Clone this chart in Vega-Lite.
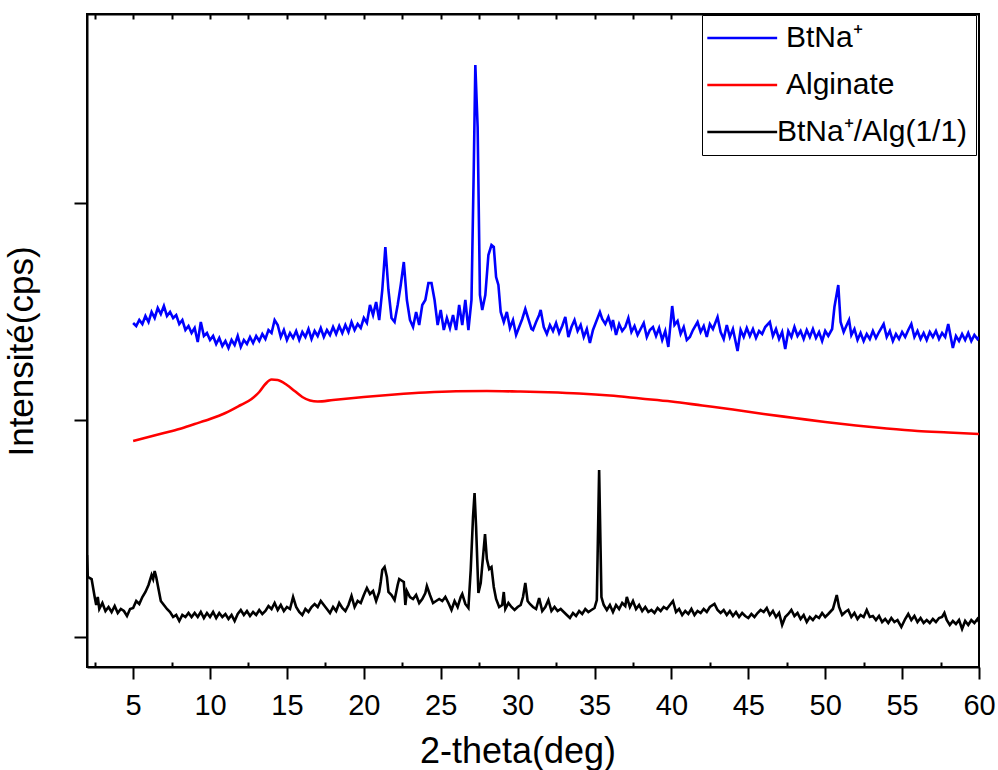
{
  "$schema": "https://vega.github.io/schema/vega-lite/v6.json",
  "width": 892,
  "height": 653,
  "autosize": "none",
  "padding": {"left": 87, "top": 14, "right": 19, "bottom": 103},
  "config": {
    "view": {"stroke": "black", "strokeWidth": 2},
    "font": "Liberation Sans",
    "axis": {"labelFont": "Liberation Sans", "titleFont": "Liberation Sans", "labelColor": "black", "titleColor": "black", "tickColor": "black", "domainColor": "black", "grid": false},
    "legend": {"labelFont": "Liberation Sans"}
  },
  "datasets": {
    "blue": [
      {"x":5.0,"y":344},{"x":5.2,"y":341},{"x":5.4,"y":347},{"x":5.6,"y":343},{"x":5.8,"y":351},{"x":6.0,"y":345},{"x":6.2,"y":355},{"x":6.4,"y":349},{"x":6.6,"y":359},{"x":6.8,"y":353},{"x":7.0,"y":361},{"x":7.2,"y":351},{"x":7.4,"y":355},{"x":7.6,"y":349},{"x":7.8,"y":352},{"x":8.0,"y":343},{"x":8.2,"y":347},{"x":8.4,"y":337},{"x":8.6,"y":341},{"x":8.8,"y":334},{"x":9.0,"y":339},{"x":9.2,"y":325},{"x":9.4,"y":345},{"x":9.6,"y":331},{"x":9.8,"y":334},{"x":10.0,"y":327},{"x":10.2,"y":331},{"x":10.4,"y":323},{"x":10.6,"y":329},{"x":10.8,"y":321},{"x":11.0,"y":326},{"x":11.2,"y":319},{"x":11.4,"y":327},{"x":11.6,"y":322},{"x":11.8,"y":331},{"x":12.0,"y":320},{"x":12.2,"y":327},{"x":12.4,"y":323},{"x":12.6,"y":330},{"x":12.8,"y":324},{"x":13.0,"y":331},{"x":13.2,"y":326},{"x":13.4,"y":333},{"x":13.6,"y":328},{"x":13.8,"y":337},{"x":14.0,"y":334},{"x":14.2,"y":347},{"x":14.4,"y":342},{"x":14.6,"y":330},{"x":14.8,"y":337},{"x":15.0,"y":327},{"x":15.2,"y":334},{"x":15.4,"y":329},{"x":15.6,"y":336},{"x":15.8,"y":327},{"x":16.0,"y":335},{"x":16.2,"y":330},{"x":16.4,"y":338},{"x":16.6,"y":328},{"x":16.8,"y":336},{"x":17.0,"y":331},{"x":17.2,"y":339},{"x":17.4,"y":330},{"x":17.6,"y":337},{"x":17.8,"y":332},{"x":18.0,"y":340},{"x":18.2,"y":333},{"x":18.4,"y":341},{"x":18.6,"y":334},{"x":18.8,"y":342},{"x":19.0,"y":335},{"x":19.2,"y":345},{"x":19.4,"y":337},{"x":19.6,"y":343},{"x":19.8,"y":339},{"x":20.0,"y":349},{"x":20.2,"y":344},{"x":20.4,"y":362},{"x":20.6,"y":352},{"x":20.8,"y":365},{"x":21.0,"y":347},{"x":21.2,"y":377},{"x":21.4,"y":420},{"x":21.6,"y":377},{"x":21.8,"y":349},{"x":22.0,"y":345},{"x":22.2,"y":362},{"x":22.4,"y":382},{"x":22.6,"y":405},{"x":22.8,"y":367},{"x":23.0,"y":347},{"x":23.2,"y":340},{"x":23.4,"y":355},{"x":23.6,"y":342},{"x":23.8,"y":362},{"x":24.0,"y":367},{"x":24.2,"y":384},{"x":24.4,"y":384},{"x":24.6,"y":367},{"x":24.8,"y":342},{"x":25.0,"y":357},{"x":25.2,"y":337},{"x":25.4,"y":349},{"x":25.6,"y":339},{"x":25.8,"y":352},{"x":26.0,"y":337},{"x":26.2,"y":362},{"x":26.4,"y":342},{"x":26.6,"y":367},{"x":26.8,"y":337},{"x":27.0,"y":367},{"x":27.15,"y":500},{"x":27.25,"y":602},{"x":27.4,"y":540},{"x":27.55,"y":372},{"x":27.7,"y":357},{"x":27.9,"y":372},{"x":28.1,"y":412},{"x":28.3,"y":422},{"x":28.45,"y":420},{"x":28.6,"y":390},{"x":28.75,"y":382},{"x":28.9,"y":355},{"x":29.1,"y":345},{"x":29.3,"y":355},{"x":29.5,"y":339},{"x":29.7,"y":347},{"x":29.9,"y":332},{"x":30.1,"y":340},{"x":30.3,"y":348},{"x":30.5,"y":358},{"x":30.7,"y":348},{"x":30.9,"y":338},
      {"x":31.0,"y":337},{"x":31.2,"y":345},{"x":31.4,"y":352},{"x":31.5,"y":357},{"x":31.7,"y":340},{"x":31.9,"y":333},{"x":32.1,"y":342},{"x":32.3,"y":336},{"x":32.5,"y":344},{"x":32.7,"y":334},{"x":32.9,"y":341},{"x":33.1,"y":350},{"x":33.3,"y":330},{"x":33.5,"y":340},{"x":33.7,"y":347},{"x":33.9,"y":336},{"x":34.1,"y":342},{"x":34.3,"y":330},{"x":34.5,"y":338},{"x":34.7,"y":324},{"x":34.9,"y":337},{"x":35.1,"y":345},{"x":35.35,"y":355},{"x":35.5,"y":348},{"x":35.7,"y":343},{"x":35.9,"y":350},{"x":36.1,"y":340},{"x":36.2,"y":347},{"x":36.4,"y":332},{"x":36.6,"y":343},{"x":36.8,"y":336},{"x":37.0,"y":340},{"x":37.2,"y":349},{"x":37.4,"y":335},{"x":37.6,"y":341},{"x":37.8,"y":332},{"x":38.0,"y":338},{"x":38.2,"y":344},{"x":38.4,"y":330},{"x":38.6,"y":337},{"x":38.8,"y":340},{"x":39.0,"y":331},{"x":39.2,"y":339},{"x":39.4,"y":327},{"x":39.6,"y":336},{"x":39.8,"y":320},{"x":40.05,"y":361},{"x":40.2,"y":342},{"x":40.4,"y":346},{"x":40.6,"y":333},{"x":40.8,"y":340},{"x":41.0,"y":327},{"x":41.2,"y":330},{"x":41.4,"y":337},{"x":41.7,"y":345},{"x":41.9,"y":335},{"x":42.1,"y":341},{"x":42.3,"y":330},{"x":42.5,"y":343},{"x":42.7,"y":338},{"x":43.0,"y":350},{"x":43.2,"y":335},{"x":43.4,"y":328},{"x":43.6,"y":342},{"x":43.8,"y":330},{"x":44.0,"y":338},{"x":44.3,"y":316},{"x":44.5,"y":337},{"x":44.7,"y":330},{"x":44.9,"y":339},{"x":45.1,"y":331},{"x":45.3,"y":338},{"x":45.5,"y":329},{"x":45.7,"y":336},{"x":45.9,"y":333},{"x":46.1,"y":340},{"x":46.4,"y":345},{"x":46.6,"y":331},{"x":46.8,"y":338},{"x":47.0,"y":328},{"x":47.2,"y":335},{"x":47.4,"y":318},{"x":47.6,"y":336},{"x":47.8,"y":330},{"x":48.0,"y":340},{"x":48.2,"y":331},{"x":48.4,"y":336},{"x":48.6,"y":328},{"x":48.8,"y":337},{"x":49.0,"y":330},{"x":49.2,"y":338},{"x":49.4,"y":329},{"x":49.6,"y":335},{"x":49.8,"y":326},{"x":50.0,"y":336},{"x":50.2,"y":331},{"x":50.45,"y":338},{"x":50.6,"y":360},{"x":50.85,"y":382},{"x":51.0,"y":345},{"x":51.2,"y":335},{"x":51.4,"y":342},{"x":51.55,"y":347},{"x":51.7,"y":332},{"x":51.9,"y":338},{"x":52.1,"y":327},{"x":52.3,"y":334},{"x":52.5,"y":326},{"x":52.7,"y":333},{"x":52.9,"y":328},{"x":53.1,"y":336},{"x":53.3,"y":329},{"x":53.5,"y":335},{"x":53.8,"y":343},{"x":54.0,"y":330},{"x":54.2,"y":336},{"x":54.4,"y":326},{"x":54.6,"y":333},{"x":54.8,"y":328},{"x":55.0,"y":335},{"x":55.2,"y":330},{"x":55.4,"y":337},{"x":55.6,"y":343},{"x":55.8,"y":330},{"x":56.0,"y":336},{"x":56.2,"y":328},{"x":56.4,"y":334},{"x":56.6,"y":327},{"x":56.8,"y":335},{"x":57.0,"y":330},{"x":57.2,"y":336},{"x":57.4,"y":328},{"x":57.6,"y":334},{"x":57.8,"y":330},{"x":58.0,"y":343},{"x":58.3,"y":319},{"x":58.5,"y":331},{"x":58.7,"y":326},{"x":58.9,"y":333},{"x":59.1,"y":327},{"x":59.3,"y":334},{"x":59.5,"y":326},{"x":59.7,"y":332},{"x":59.9,"y":328},{"x":60.0,"y":330}
    ],
    "red": [
      {"x":5,"y":226},{"x":6,"y":230},{"x":7,"y":234},{"x":8,"y":238},{"x":9,"y":243},{"x":10,"y":248},{"x":11,"y":254},{"x":12,"y":262},{"x":12.7,"y":268},{"x":13.2,"y":275},{"x":13.6,"y":283},{"x":14,"y":287.5},{"x":14.4,"y":287},{"x":15,"y":282},{"x":15.5,"y":276},{"x":16,"y":270},{"x":16.5,"y":266.5},{"x":17,"y":265.5},{"x":18,"y":267},{"x":20,"y":270},{"x":22,"y":272.5},{"x":24,"y":274.5},{"x":26,"y":275.7},{"x":28,"y":276},{"x":30,"y":275.5},{"x":32,"y":274.7},{"x":34,"y":273.5},{"x":36,"y":271.5},{"x":38,"y":268.5},{"x":40,"y":265.5},{"x":42,"y":261.5},{"x":44,"y":257.5},{"x":46,"y":253},{"x":48,"y":249},{"x":50,"y":245},{"x":52,"y":241.5},{"x":54,"y":238.5},{"x":56,"y":236},{"x":58,"y":234.5},{"x":60,"y":233}
    ],
    "black": [
      {"x":2.0,"y":112},{"x":2.05,"y":90},{"x":2.3,"y":88},{"x":2.5,"y":70},{"x":2.6,"y":62},{"x":2.7,"y":70},{"x":2.8,"y":58},{"x":3.0,"y":64},{"x":3.2,"y":56},{"x":3.4,"y":60},{"x":3.6,"y":55},{"x":3.8,"y":61},{"x":4.0,"y":54},{"x":4.2,"y":58},{"x":4.4,"y":56},{"x":4.6,"y":51},{"x":4.8,"y":58},{"x":5.0,"y":59},{"x":5.2,"y":66},{"x":5.4,"y":63},{"x":5.6,"y":70},{"x":5.8,"y":75},{"x":6.0,"y":82},{"x":6.2,"y":92},{"x":6.3,"y":88},{"x":6.4,"y":96},{"x":6.5,"y":90},{"x":6.6,"y":82},{"x":6.8,"y":66},{"x":7.0,"y":62},{"x":7.2,"y":58},{"x":7.4,"y":55},{"x":7.6,"y":50},{"x":7.8,"y":52},{"x":8.0,"y":46},{"x":8.2,"y":52},{"x":8.4,"y":50},{"x":8.6,"y":54},{"x":8.8,"y":50},{"x":9.0,"y":54},{"x":9.2,"y":50},{"x":9.4,"y":55},{"x":9.6,"y":49},{"x":9.8,"y":54},{"x":10.0,"y":50},{"x":10.2,"y":55},{"x":10.4,"y":49},{"x":10.6,"y":54},{"x":10.8,"y":50},{"x":11.0,"y":53},{"x":11.2,"y":48},{"x":11.4,"y":52},{"x":11.6,"y":46},{"x":11.8,"y":53},{"x":12.0,"y":57},{"x":12.2,"y":52},{"x":12.4,"y":56},{"x":12.6,"y":51},{"x":12.8,"y":55},{"x":13.0,"y":52},{"x":13.2,"y":57},{"x":13.4,"y":53},{"x":13.6,"y":56},{"x":13.8,"y":61},{"x":14.0,"y":58},{"x":14.2,"y":64},{"x":14.4,"y":57},{"x":14.6,"y":62},{"x":14.8,"y":56},{"x":15.0,"y":60},{"x":15.2,"y":58},{"x":15.4,"y":70},{"x":15.6,"y":60},{"x":15.8,"y":55},{"x":16.0,"y":52},{"x":16.2,"y":58},{"x":16.4,"y":55},{"x":16.6,"y":60},{"x":16.8,"y":63},{"x":17.0,"y":60},{"x":17.2,"y":66},{"x":17.4,"y":62},{"x":17.6,"y":58},{"x":17.8,"y":54},{"x":18.0,"y":60},{"x":18.2,"y":56},{"x":18.4,"y":64},{"x":18.6,"y":59},{"x":18.8,"y":56},{"x":19.0,"y":62},{"x":19.2,"y":71},{"x":19.4,"y":60},{"x":19.6,"y":66},{"x":19.8,"y":64},{"x":20.0,"y":72},{"x":20.2,"y":79},{"x":20.4,"y":73},{"x":20.6,"y":76},{"x":20.8,"y":66},{"x":21.0,"y":75},{"x":21.1,"y":85},{"x":21.2,"y":97},{"x":21.35,"y":100},{"x":21.5,"y":90},{"x":21.6,"y":75},{"x":21.8,"y":72},{"x":22.0,"y":67},{"x":22.2,"y":82},{"x":22.3,"y":88},{"x":22.5,"y":86},{"x":22.6,"y":85},{"x":22.7,"y":62},{"x":22.8,"y":76},{"x":23.0,"y":70},{"x":23.2,"y":68},{"x":23.4,"y":72},{"x":23.6,"y":64},{"x":23.8,"y":68},{"x":24.0,"y":74},{"x":24.1,"y":81},{"x":24.3,"y":72},{"x":24.5,"y":64},{"x":24.7,"y":66},{"x":24.9,"y":68},{"x":25.1,"y":66},{"x":25.3,"y":70},{"x":25.5,"y":64},{"x":25.7,"y":57},{"x":25.9,"y":66},{"x":26.1,"y":60},{"x":26.3,"y":70},{"x":26.4,"y":73},{"x":26.6,"y":63},{"x":26.8,"y":59},{"x":26.95,"y":97},{"x":27.1,"y":150},{"x":27.2,"y":174},{"x":27.3,"y":140},{"x":27.45,"y":74},{"x":27.6,"y":84},{"x":27.75,"y":110},{"x":27.88,"y":133},{"x":28.0,"y":108},{"x":28.15,"y":98},{"x":28.3,"y":100},{"x":28.45,"y":80},{"x":28.6,"y":68},{"x":28.8,"y":60},{"x":29.0,"y":62},{"x":29.1,"y":75},{"x":29.2,"y":58},{"x":29.4,"y":64},{"x":29.6,"y":60},{"x":29.8,"y":57},{"x":30.0,"y":60},{"x":30.2,"y":62},{"x":30.35,"y":70},{"x":30.5,"y":84},{"x":30.65,"y":66},{"x":30.8,"y":63},{"x":31.0,"y":60},{"x":31.2,"y":58},{"x":31.4,"y":69},{"x":31.6,"y":56},{"x":31.8,"y":60},{"x":32.0,"y":67},{"x":32.2,"y":56},{"x":32.4,"y":60},{"x":32.6,"y":56},{"x":32.8,"y":58},{"x":33.0,"y":55},{"x":33.2,"y":52},{"x":33.4,"y":49},{"x":33.6,"y":54},{"x":33.8,"y":51},{"x":34.0,"y":56},{"x":34.2,"y":53},{"x":34.4,"y":58},{"x":34.6,"y":55},{"x":34.8,"y":57},{"x":35.0,"y":59},{"x":35.15,"y":67},{"x":35.3,"y":197},{"x":35.45,"y":70},{"x":35.6,"y":62},{"x":35.8,"y":57},{"x":36.0,"y":62},{"x":36.2,"y":55},{"x":36.4,"y":62},{"x":36.6,"y":58},{"x":36.8,"y":64},{"x":37.0,"y":61},{"x":37.1,"y":70},{"x":37.3,"y":60},{"x":37.5,"y":66},{"x":37.7,"y":58},{"x":37.9,"y":62},{"x":38.1,"y":56},{"x":38.3,"y":60},{"x":38.5,"y":55},{"x":38.7,"y":57},{"x":38.9,"y":54},{"x":39.1,"y":59},{"x":39.3,"y":56},{"x":39.5,"y":60},{"x":39.7,"y":58},{"x":39.9,"y":62},{"x":40.1,"y":66},{"x":40.3,"y":55},{"x":40.5,"y":58},{"x":40.7,"y":52},{"x":40.9,"y":56},{"x":41.1,"y":53},{"x":41.3,"y":58},{"x":41.5,"y":52},{"x":41.7,"y":56},{"x":41.9,"y":54},{"x":42.1,"y":58},{"x":42.3,"y":55},{"x":42.5,"y":60},{"x":42.8,"y":63},{"x":43.0,"y":57},{"x":43.2,"y":54},{"x":43.4,"y":57},{"x":43.6,"y":52},{"x":43.8,"y":56},{"x":44.0,"y":51},{"x":44.2,"y":55},{"x":44.4,"y":50},{"x":44.6,"y":54},{"x":44.8,"y":51},{"x":45.0,"y":49},{"x":45.2,"y":53},{"x":45.4,"y":50},{"x":45.6,"y":54},{"x":45.8,"y":57},{"x":46.0,"y":55},{"x":46.2,"y":59},{"x":46.4,"y":52},{"x":46.6,"y":56},{"x":46.8,"y":50},{"x":47.0,"y":54},{"x":47.2,"y":42},{"x":47.4,"y":50},{"x":47.6,"y":53},{"x":47.8,"y":57},{"x":48.0,"y":51},{"x":48.2,"y":54},{"x":48.4,"y":48},{"x":48.6,"y":52},{"x":48.8,"y":45},{"x":49.0,"y":50},{"x":49.2,"y":47},{"x":49.4,"y":51},{"x":49.6,"y":49},{"x":49.8,"y":54},{"x":50.0,"y":50},{"x":50.2,"y":53},{"x":50.5,"y":58},{"x":50.75,"y":72},{"x":50.9,"y":60},{"x":51.1,"y":52},{"x":51.3,"y":55},{"x":51.5,"y":57},{"x":51.7,"y":50},{"x":51.9,"y":54},{"x":52.1,"y":48},{"x":52.3,"y":52},{"x":52.5,"y":50},{"x":52.7,"y":57},{"x":52.9,"y":50},{"x":53.1,"y":51},{"x":53.3,"y":47},{"x":53.5,"y":51},{"x":53.7,"y":45},{"x":53.9,"y":48},{"x":54.1,"y":44},{"x":54.3,"y":49},{"x":54.5,"y":45},{"x":54.7,"y":47},{"x":54.95,"y":40},{"x":55.2,"y":48},{"x":55.4,"y":53},{"x":55.6,"y":47},{"x":55.8,"y":51},{"x":56.0,"y":45},{"x":56.2,"y":49},{"x":56.4,"y":44},{"x":56.6,"y":47},{"x":56.8,"y":44},{"x":57.0,"y":48},{"x":57.2,"y":45},{"x":57.4,"y":49},{"x":57.6,"y":50},{"x":57.75,"y":54},{"x":57.9,"y":47},{"x":58.1,"y":42},{"x":58.3,"y":46},{"x":58.5,"y":43},{"x":58.7,"y":47},{"x":58.9,"y":38},{"x":59.1,"y":46},{"x":59.3,"y":42},{"x":59.5,"y":47},{"x":59.7,"y":44},{"x":59.9,"y":48},{"x":60.0,"y":45}
    ]
  },
  "layer": [
    {
      "data": {"name": "blue"},
      "mark": {"type": "line", "strokeWidth": 2.6, "clip": true},
      "encoding": {
        "x": {"field": "x", "type": "quantitative", "scale": {"domain": [2, 60], "nice": false, "zero": false},
          "axis": {"orient": "bottom", "values": [5,10,15,20,25,30,35,40,45,50,55,60], "tickSize": 12, "tickWidth": 2, "domainWidth": 2, "labelFontSize": 29, "labelPadding": 12, "labelFlush": false, "labelOverlap": false, "title": "2-theta(deg)", "titleFontSize": 36, "titleFontWeight": "normal", "titlePadding": 14, "titleX": 430.5}},
        "y": {"field": "y", "type": "quantitative", "scale": {"domain": [0, 653], "nice": false, "zero": false},
          "axis": {"orient": "left", "values": [30.3, 247, 463.7], "tickSize": 13, "tickWidth": 2, "domainWidth": 2, "labels": false, "title": "Intensité(cps)", "titleFontSize": 35, "titleFontWeight": "normal", "titlePadding": 34, "titleY": 337}},
        "color": {"datum": "BtNa⁺", "type": "nominal",
          "scale": {"domain": ["BtNa⁺", "Alginate", "BtNa⁺/Alg(1/1)"], "range": ["#0000ff", "#ff0000", "#000000"]},
          "legend": {"orient": "none", "legendX": 615, "legendY": 1, "title": null, "symbolType": "M-1.56,0H4.6", "symbolSize": 514, "symbolStrokeWidth": 2.5, "labelFontSize": 30, "labelColor": "black", "labelOffset": 46, "labelLimit": 400, "padding": 8, "rowPadding": 17, "strokeColor": "black", "fillColor": "white",
            "encode": {"labels": {"update": {"dx": {"signal": "indexof(datum.label, '/') >= 0 ? -9 : 0"}}}}}}
      }
    },
    {
      "data": {"name": "red"},
      "mark": {"type": "line", "strokeWidth": 2.6, "interpolate": "monotone", "clip": true},
      "encoding": {
        "x": {"field": "x", "type": "quantitative", "scale": {"domain": [2, 60], "nice": false, "zero": false},
          "axis": {"orient": "bottom", "values": [2.5,7.5,12.5,17.5,22.5,27.5,32.5,37.5,42.5,47.5,52.5,57.5], "tickSize": -5, "tickWidth": 2, "domain": false, "labels": false, "title": null}},
        "y": {"field": "y", "type": "quantitative", "scale": {"domain": [0, 653], "nice": false, "zero": false}, "axis": null},
        "color": {"datum": "Alginate", "type": "nominal"}
      }
    },
    {
      "data": {"name": "black"},
      "mark": {"type": "line", "strokeWidth": 2.6, "clip": true},
      "encoding": {
        "x": {"field": "x", "type": "quantitative", "scale": {"domain": [2, 60], "nice": false, "zero": false},
          "axis": {"orient": "top", "values": [2.5,5,7.5,10,12.5,15,17.5,20,22.5,25,27.5,30,32.5,35,37.5,40,42.5,45,47.5,50,52.5,55,57.5], "tickSize": -5, "tickWidth": 2, "domainWidth": 2, "labels": false, "title": null}},
        "y": {"field": "y", "type": "quantitative", "scale": {"domain": [0, 653], "nice": false, "zero": false}, "axis": null},
        "color": {"datum": "BtNa⁺/Alg(1/1)", "type": "nominal"}
      }
    }
  ],
  "resolve": {"axis": {"x": "independent", "y": "independent"}}
}
